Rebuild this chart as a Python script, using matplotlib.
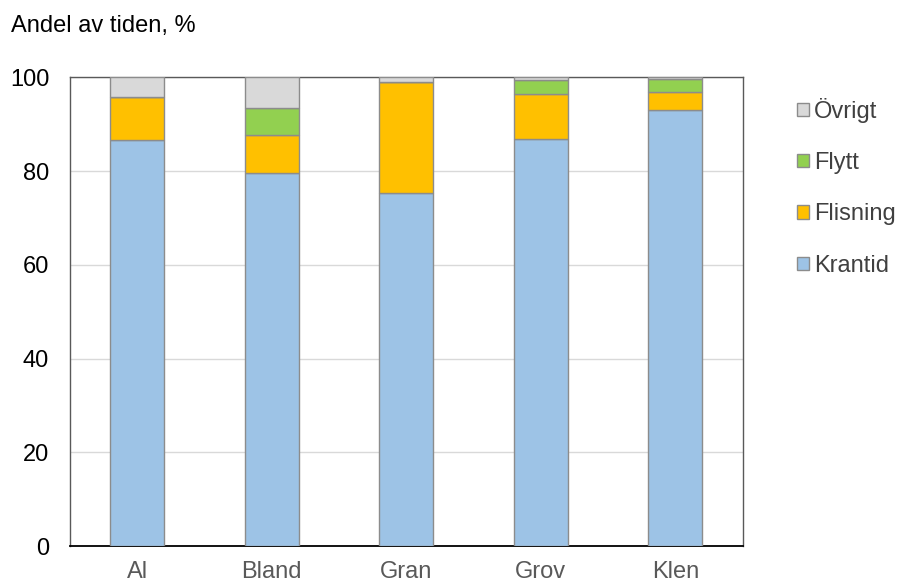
import matplotlib.pyplot as plt
import numpy as np

plt.rcParams['font.family'] = ['Liberation Sans', 'DejaVu Sans']

# data (percent of time)
categories = ['Al', 'Bland', 'Gran', 'Grov', 'Klen']
krantid = [86.7, 79.7, 75.3, 86.9, 93.1]
flisning = [9.2, 7.9, 23.7, 9.5, 3.7]
flytt = [0.0, 5.8, 0.0, 3.0, 2.8]
ovrigt = [4.1, 6.6, 1.0, 0.6, 0.4]

series = [('Krantid', krantid, '#9DC3E6'),
          ('Flisning', flisning, '#FFC000'),
          ('Flytt', flytt, '#92D050'),
          ('Övrigt', ovrigt, '#D9D9D9')]

fs = 17

fig = plt.figure(figsize=(8.98, 5.86), dpi=100)
ax = fig.add_axes([0.078, 0.068, 0.749, 0.8])

x = np.arange(len(categories))
bottom = np.zeros(len(categories))
handles = []
for name, vals, col in series:
    b = ax.bar(x, vals, 0.4, bottom=bottom, color=col, edgecolor='#8c8c8c',
               linewidth=1, label=name, zorder=3)
    bottom += np.array(vals)
    handles.append(b)

ax.set_xlim(-0.5, len(categories) - 0.5)
ax.set_ylim(0, 100)
ax.set_yticks(range(0, 101, 20))
ax.yaxis.grid(True, color='#d9d9d9', linewidth=1, zorder=0)
ax.set_xticks(x)
ax.set_xticklabels(categories)
ax.tick_params(axis='both', length=0, labelsize=fs)
ax.tick_params(axis='x', pad=11, labelcolor='#595959')
ax.tick_params(axis='y', pad=15, labelcolor='#000000')
for s in ax.spines.values():
    s.set_color('#595959')
    s.set_linewidth(1)
ax.spines['bottom'].set_color('#000000')
ax.spines['bottom'].set_linewidth(1.3)

fig.text(0.012, 0.955, 'Andel av tiden, %', fontsize=fs, va='center',
         color='#000000')

leg = fig.legend(handles[::-1], [s[0] for s in series][::-1],
                 loc='upper left', bbox_to_anchor=(0.888, 0.833), frameon=False,
                 fontsize=fs, handlelength=0.5, handleheight=0.5,
                 handletextpad=0.2, labelspacing=1.24, borderaxespad=0,
                 borderpad=0)
for t in leg.get_texts():
    t.set_color('#404040')

fig.savefig('out.png', dpi=100)
